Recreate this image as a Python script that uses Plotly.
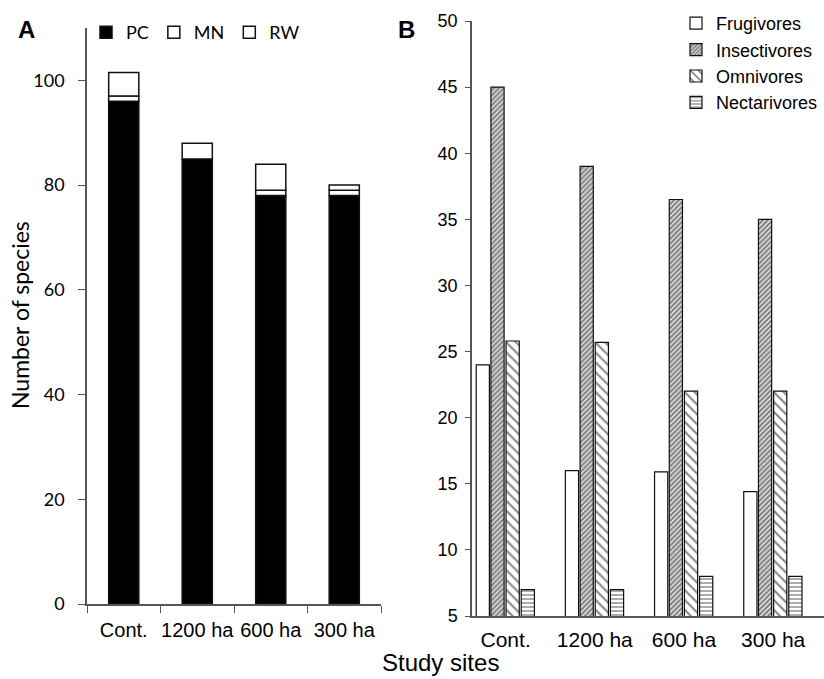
import plotly.graph_objects as go

# ---------------- data ----------------
sites = ["Cont.", "1200 ha", "600 ha", "300 ha"]

# Panel A: number of species (stacked)
pc = [96, 85, 78, 78]
mn = [1, 0, 1, 1]
rw = [4.5, 3, 5, 1]
a_ticks = [0, 20, 40, 60, 80, 100]

# Panel B: feeding guilds
frugivores = [24, 16, 15.9, 14.4]
insectivores = [45, 39, 36.5, 35]
omnivores = [25.8, 25.7, 22, 22]
nectarivores = [7, 7, 8, 8]
b_ticks = [5, 10, 15, 20, 25, 30, 35, 40, 45, 50]

W, H = 824, 679
CAL = "Lato"
ARI = "Liberation Sans"

fig = go.Figure()

# ---------------- panel A ----------------
base_mn = [p for p in pc]
base_rw = [p + m for p, m in zip(pc, mn)]
line = dict(color="#111", width=1.5)
fig.add_trace(go.Bar(name="PC", x=sites, y=pc, marker=dict(color="black", line=line),
                     width=0.41, xaxis="x", yaxis="y", legend="legend"))
fig.add_trace(go.Bar(name="MN", x=sites, y=mn, base=base_mn,
                     marker=dict(color="white", line=line),
                     width=0.41, xaxis="x", yaxis="y", legend="legend"))
fig.add_trace(go.Bar(name="RW", x=sites, y=rw, base=base_rw,
                     marker=dict(color="white", line=line),
                     width=0.41, xaxis="x", yaxis="y", legend="legend"))

# ---------------- panel B ----------------
bw = 0.148
bline = dict(color="#111", width=1.2)
fig.add_trace(go.Bar(name="Frugivores", x=sites, y=frugivores, width=bw, offset=-0.33,
                     marker=dict(color="white", line=bline),
                     xaxis="x2", yaxis="y2", legend="legend2"))
fig.add_trace(go.Bar(name="Insectivores", x=sites, y=insectivores, width=bw, offset=-0.165,
                     marker=dict(color="white", line=bline,
                                 pattern=dict(shape="/", fgcolor="#111", size=3.5, solidity=0.72)),
                     xaxis="x2", yaxis="y2", legend="legend2"))
fig.add_trace(go.Bar(name="Omnivores", x=sites, y=omnivores, width=bw, offset=0.005,
                     marker=dict(color="white", line=bline,
                                 pattern=dict(shape="\\", fgcolor="#111", size=7, solidity=0.3)),
                     xaxis="x2", yaxis="y2", legend="legend2"))
fig.add_trace(go.Bar(name="Nectarivores", x=sites, y=nectarivores, width=bw, offset=0.175,
                     marker=dict(color="white", line=bline,
                                 pattern=dict(shape="-", fgcolor="#111", size=4, solidity=0.35)),
                     xaxis="x2", yaxis="y2", legend="legend2"))

axcol = "#555"
fig.update_layout(
    width=W, height=H,
    margin=dict(l=0, r=0, t=0, b=0),
    paper_bgcolor="white", plot_bgcolor="white",
    barmode="overlay",
    showlegend=True,
    xaxis=dict(domain=[87 / W, 381 / W], type="category", range=[-0.5, 3.5],
               showline=True, linecolor=axcol, linewidth=1.5,
               ticks="outside", tickson="boundaries", ticklen=7, tickcolor=axcol,
               tickangle=0,
               tickfont=dict(family=ARI, size=20, color="black"),
               ticklabelstandoff=7, showgrid=False, zeroline=False,
               anchor="y", automargin=False),
    yaxis=dict(domain=[(H - 604) / H, (H - 28) / H], range=[0, 110],
               tickvals=a_ticks, showline=True, linecolor=axcol, linewidth=1.5,
               ticks="outside", ticklen=7, tickcolor=axcol,
               ticklabelstandoff=10,
               tickfont=dict(family=CAL, size=18, color="black"),
               showgrid=False, zeroline=False, anchor="x", automargin=False),
    xaxis2=dict(domain=[472 / W, 1.0], type="category", range=[-0.377, 3.57],
                showline=True, linecolor=axcol, linewidth=1.5, ticks="",
                tickangle=0,
                tickfont=dict(family=ARI, size=21, color="black"),
                ticklabelstandoff=4, showgrid=False, zeroline=False,
                anchor="y2", automargin=False),
    yaxis2=dict(domain=[(H - 616) / H, (H - 21) / H], range=[5, 50],
                tickvals=b_ticks, showline=True, linecolor=axcol, linewidth=1.5,
                ticks="outside", ticklen=5, tickcolor=axcol,
                ticklabelstandoff=4,
                tickfont=dict(family=ARI, size=18, color="black"),
                showgrid=False, zeroline=False, anchor="x2", automargin=False),
    legend=dict(orientation="h", x=86 / W, y=1 - 14 / H, xanchor="left", yanchor="top",
                font=dict(family=CAL, size=18, color="black"), bgcolor="rgba(0,0,0,0)",
                itemwidth=30, traceorder="normal"),
    legend2=dict(orientation="v", x=676 / W, y=1 - 5 / H, xanchor="left", yanchor="top",
                 font=dict(family=ARI, size=18, color="black"), bgcolor="rgba(0,0,0,0)",
                 tracegroupgap=0, itemwidth=30),
    annotations=[
        dict(text="<b>A</b>", x=16 / W, y=1 - 30 / H, xref="paper", yref="paper",
             xanchor="left", yanchor="middle", showarrow=False,
             font=dict(family=ARI, size=24, color="black")),
        dict(text="<b>B</b>", x=396 / W, y=1 - 30 / H, xref="paper", yref="paper",
             xanchor="left", yanchor="middle", showarrow=False,
             font=dict(family=ARI, size=24, color="black")),
        dict(text="Study sites", x=440 / W, y=1 - 662 / H, xref="paper", yref="paper",
             xanchor="center", yanchor="middle", showarrow=False,
             font=dict(family=ARI, size=24, color="black")),
        dict(text="Number of species", x=20 / W, y=1 - 315 / H, xref="paper", yref="paper",
             xanchor="center", yanchor="middle", showarrow=False, textangle=-90,
             font=dict(family=CAL, size=23, color="black")),
    ],
)

fig.write_html("out.html", config={"displayModeBar": False},
               post_script="document.body.style.margin='0';document.body.style.overflow='hidden';")
